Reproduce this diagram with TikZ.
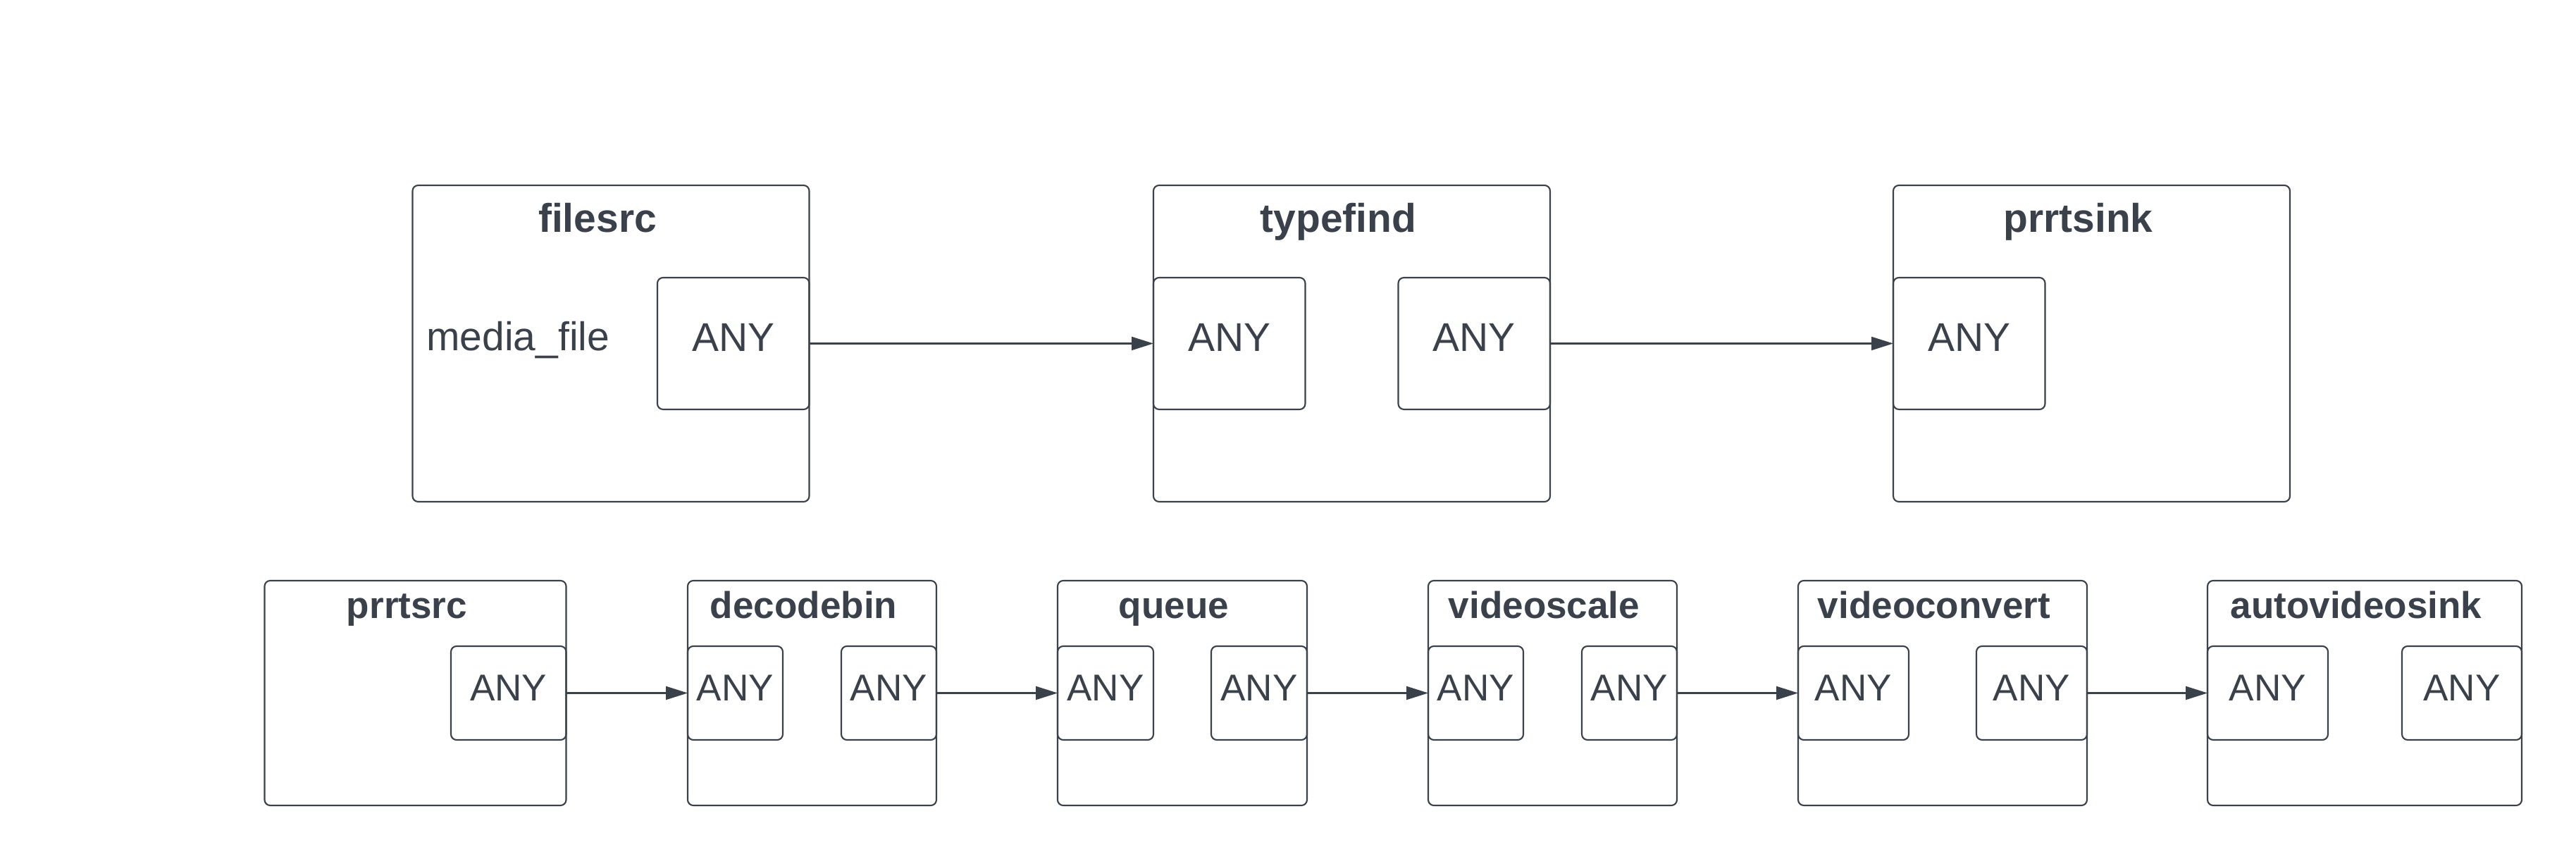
\documentclass[tikz,border=0pt]{standalone}
\usepackage{fontspec}
\setmainfont{Liberation Sans}
\usetikzlibrary{arrows.meta}
\definecolor{ink}{HTML}{3A414A}

\begin{document}
\begin{tikzpicture}[
    every node/.style={text=ink, outer sep=0pt},
    elem/.style={draw=ink, line width=0.6pt, rounded corners=0.08cm, inner sep=0pt, minimum width=5.63cm, minimum height=4.49cm},
    stage/.style={draw=ink, line width=0.6pt, rounded corners=0.08cm, inner sep=0pt, minimum height=3.19cm},
    pad/.style={draw=ink, line width=0.6pt, rounded corners=0.08cm, inner sep=0pt, minimum width=2.155cm, minimum height=1.87cm, text depth=0.18cm, font=\fontsize{16.2}{19.4}\selectfont},
    spad/.style={draw=ink, line width=0.6pt, rounded corners=0.08cm, inner sep=0pt, minimum height=1.33cm, text depth=0.14cm, font=\fontsize{15.1}{18}\selectfont},
    elemname/.style={anchor=base, inner sep=0pt, font=\fontsize{16.2}{19.4}\selectfont\bfseries},
    stagename/.style={anchor=base, inner sep=0pt, font=\fontsize{15.1}{18}\selectfont\bfseries},
    flow/.style={-{Triangle[length=0.31cm, width=0.19cm]}, draw=ink, line width=0.6pt}
]

    \path[fill=white] (0,0) rectangle (36.56,12.19);

    % Sender pipeline (top row)
    \node[elem] (filesrc) at (8.67,7.315) {};
    \node[elem] (typefind) at (19.185,7.315) {};
    \node[elem] (prrtsink) at (29.685,7.315) {};

    \foreach \n in {filesrc, typefind, prrtsink} {
        \node[elemname] (\n-name) at ([xshift=-0.19cm, yshift=-0.67cm]\n.north) {\n};
    }

    \node[anchor=base west, inner sep=0pt, font=\fontsize{16.2}{19.4}\selectfont] (mediafile) at (6.055,7.21) {media\_file};

    \node[pad, anchor=east] (filesrc-out) at (filesrc.east) {ANY};
    \node[pad, anchor=west] (typefind-in) at (typefind.west) {ANY};
    \node[pad, anchor=east] (typefind-out) at (typefind.east) {ANY};
    \node[pad, anchor=west] (prrtsink-in) at (prrtsink.west) {ANY};

    \draw[flow] (filesrc-out) -- (typefind-in);
    \draw[flow] (typefind-out) -- (prrtsink-in);

    % Receiver pipeline (bottom row)
    \foreach \n/\x/\w in {prrtsrc/5.895/4.28, decodebin/11.525/3.53, queue/16.78/3.54, videoscale/22.035/3.53, videoconvert/27.57/4.10, autovideosink/33.56/4.46} {
        \node[stage, minimum width=\w cm] (\n) at (\x,2.355) {};
        \node[stagename] (\n-name) at ([xshift=-0.12cm, yshift=-0.54cm]\n.north) {\n};
    }

    % Sink pads
    \foreach \n/\pw in {decodebin/1.35, queue/1.36, videoscale/1.35, videoconvert/1.57, autovideosink/1.71} {
        \node[spad, minimum width=\pw cm, anchor=west] (\n-in) at (\n.west) {ANY};
    }

    % Source pads
    \foreach \n/\pw in {prrtsrc/1.635, decodebin/1.35, queue/1.36, videoscale/1.35, videoconvert/1.57, autovideosink/1.70} {
        \node[spad, minimum width=\pw cm, anchor=east] (\n-out) at (\n.east) {ANY};
    }

    \foreach \a/\b in {prrtsrc/decodebin, decodebin/queue, queue/videoscale, videoscale/videoconvert, videoconvert/autovideosink} {
        \draw[flow] (\a-out) -- (\b-in);
    }

\end{tikzpicture}
\end{document}
